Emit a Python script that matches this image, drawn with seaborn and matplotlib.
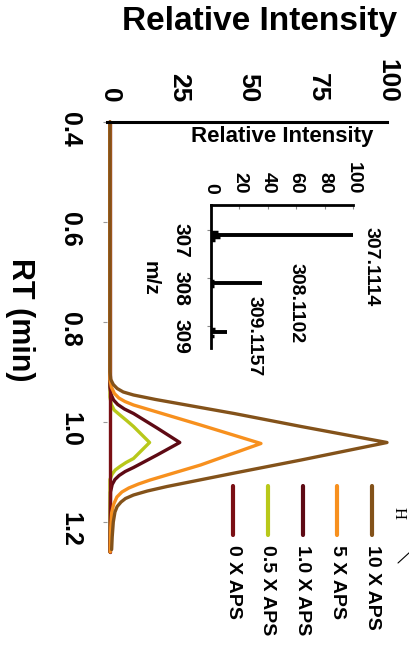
import numpy as np
import pandas as pd
import matplotlib
matplotlib.use('Agg')
import matplotlib.pyplot as plt
import seaborn as sns
from matplotlib.lines import Line2D

# --- chromatograms (RT in min, relative intensity) ---
rt_0x = [0.40, 1.26]
int_0x = [0, 0]

rt_05x = [0.40, 0.950, 0.965, 0.976, 0.986, 0.997, 1.009, 1.041,
          1.073, 1.081, 1.089, 1.096, 1.104, 1.115, 1.26]
int_05x = [0, 0, 0.5, 1.5, 3.6, 6.0, 8.5, 14.3,
           8.5, 5.8, 3.6, 1.9, 0.8, 0, 0]

rt_1x = [0.40, 0.930, 0.945, 0.956, 0.965, 0.974, 0.983, 1.012, 1.041,
         1.066, 1.091, 1.099, 1.107, 1.115, 1.125, 1.14, 1.26]
int_1x = [0, 0, 0.4, 1.3, 2.8, 5.2, 8.5, 17.0, 25.2,
          17.0, 8.5, 5.5, 3.3, 1.8, 0.8, 0.2, 0]

rt_5x = [0.40, 0.915, 0.930, 0.943, 0.952, 0.959, 0.966, 1.006, 1.043,
         1.086, 1.116, 1.124, 1.132, 1.140, 1.150, 1.165, 1.182, 1.21, 1.26]
int_5x = [0, 0, 0.5, 1.6, 3.2, 5.4, 8.5, 32.7, 54.5,
          32.7, 14.5, 10.3, 6.8, 4.3, 2.5, 1.3, 0.6, 0.3, 0.1]

rt_10x = [0.40, 0.900, 0.915, 0.925, 0.933, 0.940, 0.946, 0.955, 0.983, 1.009, 1.041,
          1.076, 1.102, 1.129, 1.138, 1.146, 1.153, 1.160, 1.169, 1.180, 1.200,
          1.230, 1.255]
int_10x = [0, 0, 0.3, 1.2, 2.6, 4.8, 8.5, 16.5, 44.8, 69.0, 100.0,
           69.0, 45.0, 20.6, 13.5, 8.5, 5.6, 4.0, 2.6, 1.8, 1.2,
           0.8, 0.6]

samples = ['10 X APS', '5 X APS', '1.0 X APS', '0.5 X APS', '0 X APS']
colors = ['#83521a', '#f7901e', '#5e0a14', '#b8c81a', '#7a0f14']
# drawing order (last on top)
draw_order = ['0.5 X APS', '1.0 X APS', '0 X APS', '5 X APS', '10 X APS']

# --- mass spectrum inset ---
mz_peaks = [307.1114, 308.1102, 309.1157]
int_peaks = [100, 36, 11]
peak_labels = ['307.1114', '308.1102', '309.1157']
label_x = [113, 60, 30]
label_y = [306.94, 307.69, 308.36]
mz_noise = [307.05, 307.15, 307.20, 308.05, 308.16, 309.05, 309.20]
int_noise = [5, 6, 3, 2, 2, 3, 2]

curves = {
    '0 X APS': (rt_0x, int_0x),
    '0.5 X APS': (rt_05x, int_05x),
    '1.0 X APS': (rt_1x, int_1x),
    '5 X APS': (rt_5x, int_5x),
    '10 X APS': (rt_10x, int_10x),
}
rows = []
for name in draw_order:
    rt, inten = curves[name]
    for r, v in zip(rt, inten):
        rows.append({'sample': name, 'rt': r, 'intensity': v})
df = pd.DataFrame(rows)
palette = dict(zip(samples, colors))

sns.set_style('white')
plt.rcParams['font.family'] = ['Liberation Sans', 'DejaVu Sans']
plt.rcParams['font.weight'] = 'bold'
plt.rcParams['text.color'] = 'black'
plt.rcParams['axes.labelcolor'] = 'black'
plt.rcParams['xtick.labelcolor'] = 'black'
plt.rcParams['ytick.labelcolor'] = 'black'

W, H = 409, 647
fig = plt.figure(figsize=(W / 100, H / 100), dpi=100)


def fx(px):
    return px / W


def fy(py):
    return 1 - py / H


# main chromatogram, drawn rotated (RT downwards, intensity to the right)
ax = fig.add_axes([fx(107.2), fy(552), fx(387) - fx(107.2), fy(122) - fy(552)])
sns.lineplot(data=df, x='intensity', y='rt', hue='sample', hue_order=draw_order,
             palette=palette, sort=False, estimator=None, linewidth=2.4,
             legend=False, ax=ax)
for ln in ax.lines:
    ln.set_clip_on(False)
    ln.set_solid_joinstyle('round')

ax.set_xlim(-1, 100)
ax.set_ylim(1.26, 0.4)
ax.xaxis.tick_top()
ax.xaxis.set_label_position('top')
ax.set_xticks([0, 25, 50, 75, 100])
ax.set_yticks([0.4, 0.6, 0.8, 1.0, 1.2])
ax.set_yticklabels(['0.4', '0.6', '0.8', '1.0', '1.2'])
ax.tick_params(axis='x', length=0, pad=14, labelsize=19, labelrotation=270)
ax.tick_params(axis='y', length=3, width=0.8, color='#999999', pad=15,
               labelsize=18, labelrotation=270, left=True)
for s in ['right', 'bottom', 'left']:
    ax.spines[s].set_visible(False)
ax.spines['top'].set_linewidth(2.2)
ax.spines['top'].set_color('black')

ax.set_xlabel('Relative Intensity', fontsize=24, fontweight='bold', va='center')
ax.xaxis.set_label_coords(0.545, 1.233)
ax.set_ylabel('RT (min)', fontsize=22, fontweight='bold', rotation=270,
              va='center', ha='center')
ax.yaxis.set_label_coords(-0.31, 0.54)

# inset mass spectrum
ax_in = fig.add_axes([fx(211), fy(348), fx(353) - fx(211), fy(205) - fy(348)])
ax_in.hlines(mz_noise, 0, int_noise, color='black', linewidth=2.5)
ax_in.hlines(mz_peaks, 0, int_peaks, color='black', linewidth=2.8)
ax_in.set_xlim(0, 100)
ax_in.set_ylim(309.45, 306.48)
ax_in.xaxis.tick_top()
ax_in.xaxis.set_label_position('top')
ax_in.set_xticks([0, 20, 40, 60, 80, 100])
ax_in.set_yticks([307, 308, 309])
ax_in.tick_params(axis='x', direction='in', length=3, width=0.8, color='#888888',
                  pad=8, labelsize=14, labelrotation=270)
ax_in.tick_params(axis='y', length=3, width=0.8, color='#888888', pad=12,
                  labelsize=15, labelrotation=270, left=True)
for s in ['right', 'bottom']:
    ax_in.spines[s].set_visible(False)
for s in ['top', 'left']:
    ax_in.spines[s].set_linewidth(2.0)
    ax_in.spines[s].set_color('black')
ax_in.patch.set_alpha(0)
ax_in.set_xlabel('Relative Intensity', fontsize=16, fontweight='bold', va='center')
ax_in.xaxis.set_label_coords(0.5, 1.48)
ax_in.set_ylabel('m/z', fontsize=15, fontweight='bold', rotation=270,
                 va='center', ha='center')
ax_in.yaxis.set_label_coords(-0.43, 0.49)
for lx, ly, lab in zip(label_x, label_y, peak_labels):
    ax_in.text(lx, ly, lab, rotation=270, rotation_mode='anchor', ha='left',
               va='center', fontsize=14, fontweight='bold', clip_on=False)

# rotated legend, columns from right to left
for i, (name, col) in enumerate(zip(samples, colors)):
    x = 372 - i * 34.7
    fig.add_artist(Line2D([fx(x), fx(x)], [fy(486), fy(535)], color=col,
                          linewidth=3, solid_capstyle='round'))
    fig.text(fx(x), fy(545), name, rotation=270, rotation_mode='anchor',
             ha='left', va='center', fontsize=14, fontweight='bold')

# cropped fragment of the structure drawing at the right edge
fig.text(fx(399), fy(513), 'H', rotation=270, rotation_mode='anchor', ha='center',
         va='center', fontsize=12, family='Liberation Serif', fontweight='normal')
fig.add_artist(Line2D([fx(398), fx(410)], [fy(563), fy(552)], color='black',
                      linewidth=0.8))

fig.savefig('out.png', dpi=100)
